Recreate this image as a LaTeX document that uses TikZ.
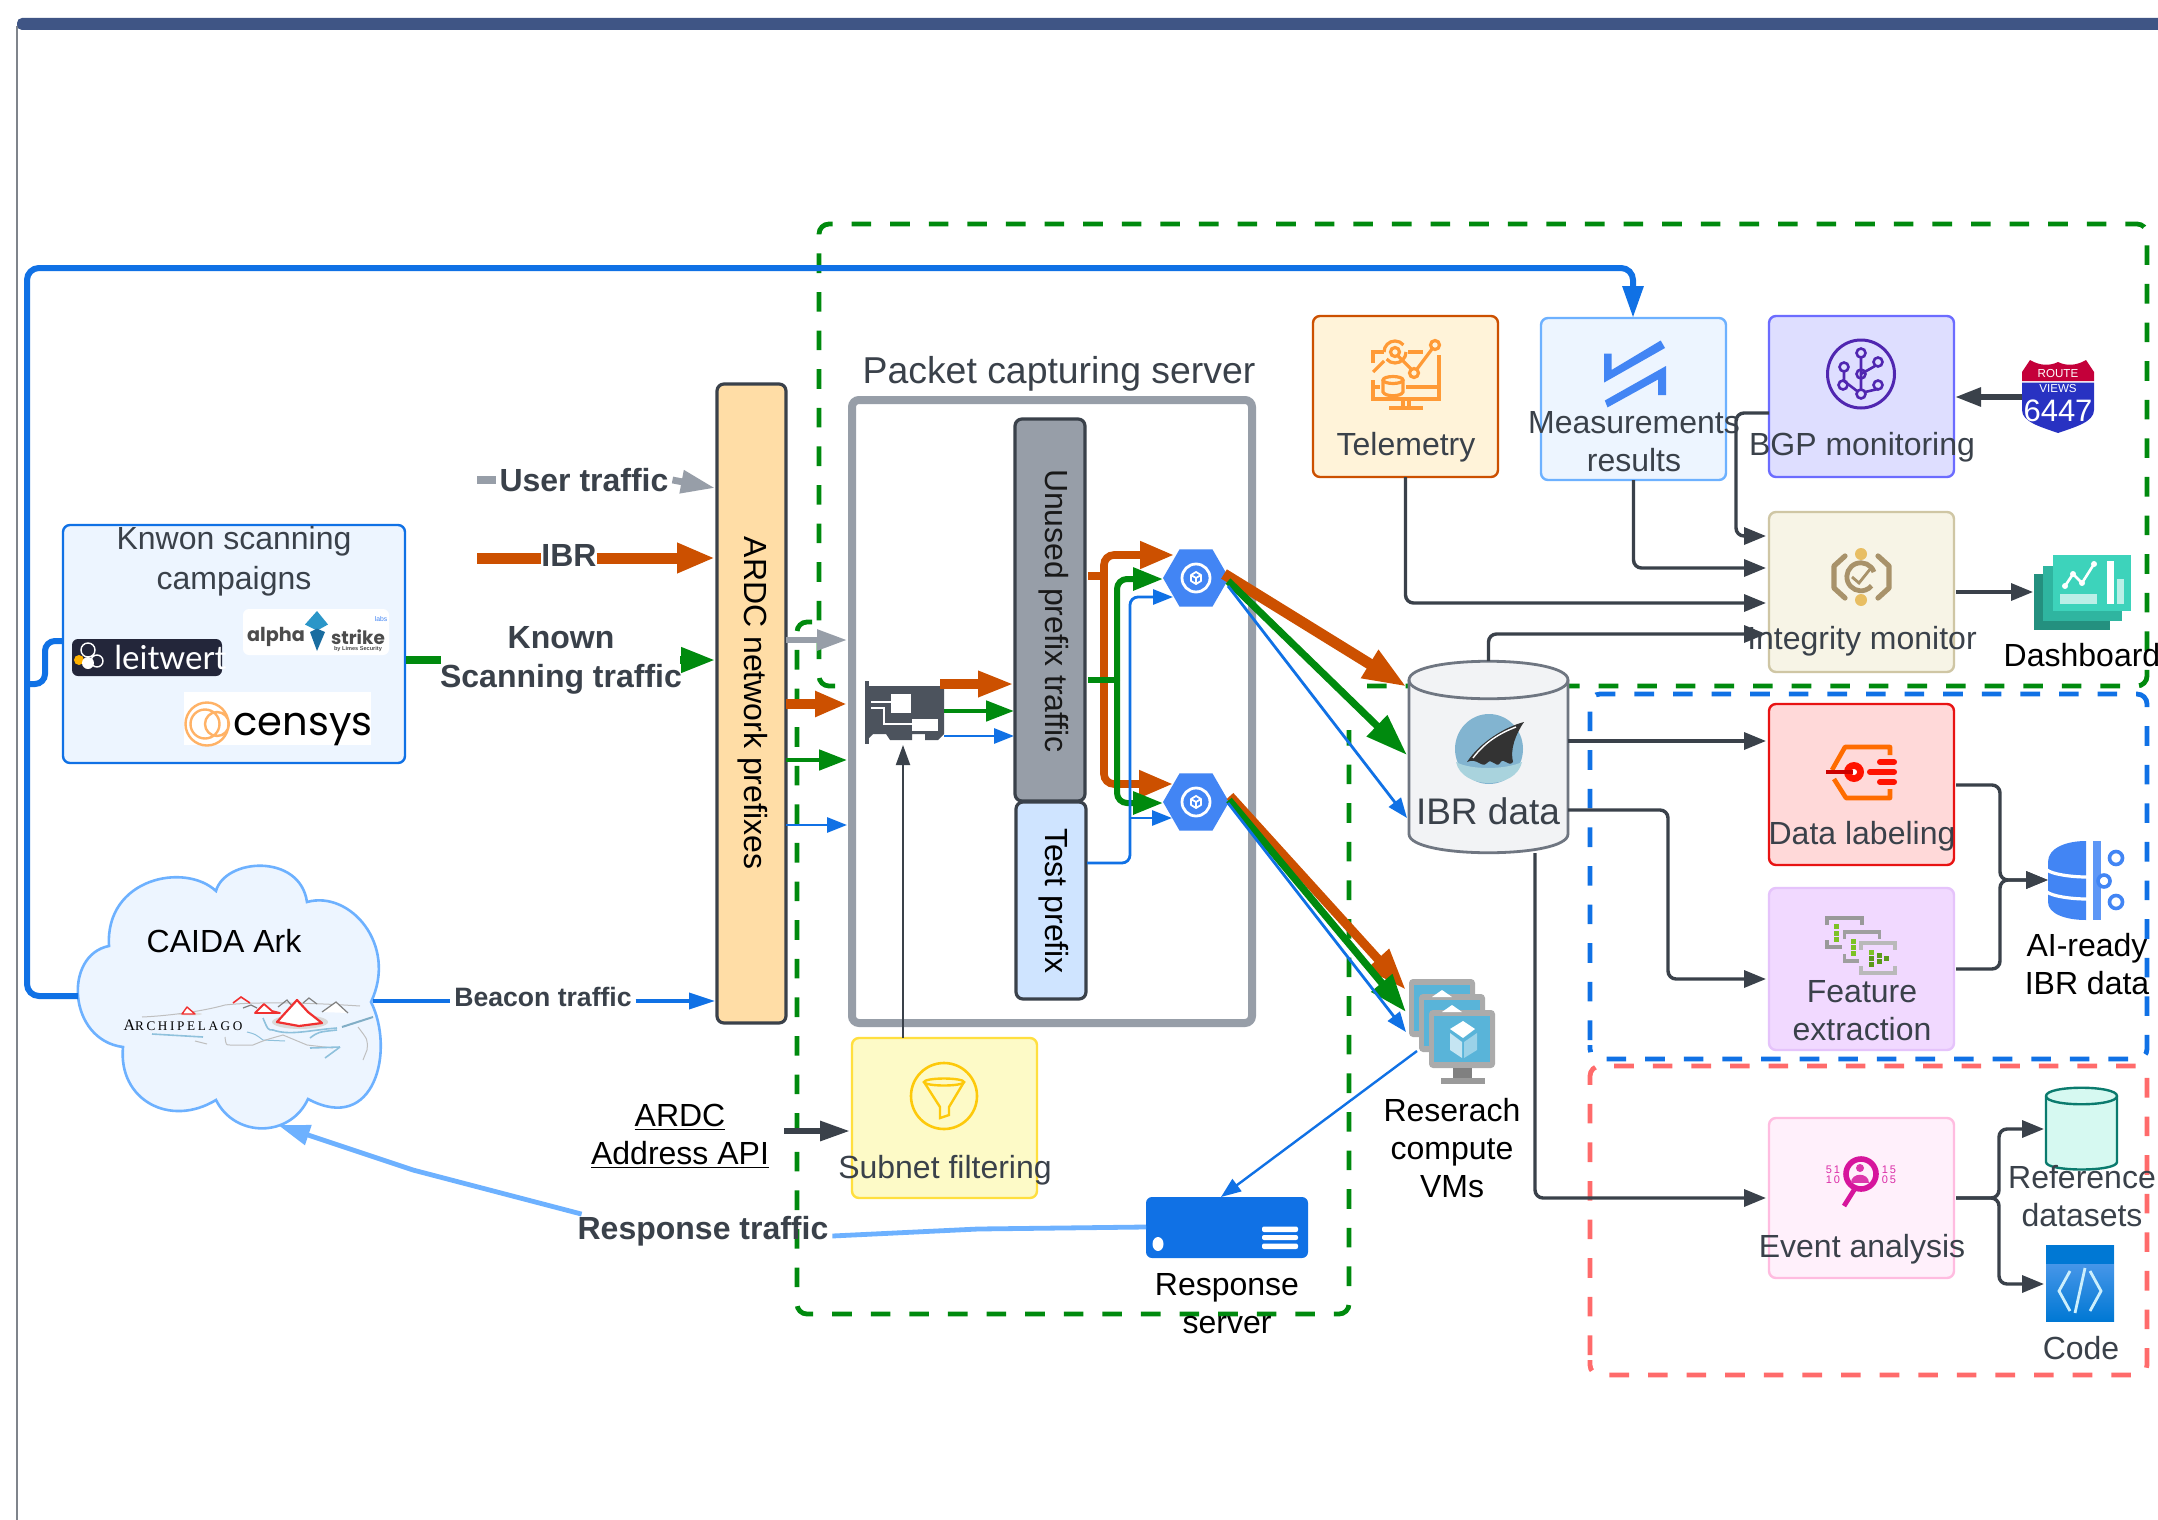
\documentclass[tikz,border=0pt]{standalone}
\usepackage{fontspec}
\setmainfont{Liberation Sans}
\newfontfamily\archfont[LetterSpace=20]{Liberation Serif}
\newfontfamily\leitfont{Lato}
\newfontfamily\popfont{Poppins}
\usetikzlibrary{arrows.meta,shapes.geometric}
\definecolor{cOrange}{HTML}{CC5000}
\definecolor{cGreen}{HTML}{008A0E}
\definecolor{cBlue}{HTML}{1071E5}
\definecolor{cLight}{HTML}{6DB1FF}
\definecolor{cGray}{HTML}{979EA8}
\definecolor{cDark}{HTML}{3A414A}
\definecolor{cRed}{HTML}{FF6B6B}
\definecolor{cTop}{HTML}{3F5585}
\definecolor{cIce}{HTML}{EDF5FF}
\definecolor{cGoog}{HTML}{4285F4}
\definecolor{cTele}{HTML}{FF9A36}
\definecolor{cRiver}{HTML}{8FC1DC}
\definecolor{cMount}{HTML}{F03030}
\definecolor{cInk}{HTML}{7F848B}
\definecolor{cPink}{HTML}{D6159C}
\definecolor{cBrace}{HTML}{A8926A}
\definecolor{cGold}{HTML}{E8BE63}
\definecolor{cScreen}{HTML}{59B4D9}
\definecolor{cMon}{HTML}{ABABAB}
\definecolor{cLeaf}{HTML}{7DC225}
\definecolor{cLeafD}{HTML}{5B9A1A}
\definecolor{fArdc}{HTML}{FFDDA6}
\definecolor{fTest}{HTML}{CFE4FF}
\definecolor{fSub}{HTML}{FDFAC7}
\definecolor{sSub}{HTML}{FFDF3F}
\definecolor{cFun}{HTML}{FDC90B}
\definecolor{fTel}{HTML}{FFF3D9}
\definecolor{fBgp}{HTML}{DEDEFF}
\definecolor{sBgp}{HTML}{6C6CFF}
\definecolor{cBgp}{HTML}{5026B0}
\definecolor{fIm}{HTML}{F7F4E6}
\definecolor{sIm}{HTML}{CFC6A4}
\definecolor{fLab}{HTML}{FFD9D9}
\definecolor{sLab}{HTML}{E81313}
\definecolor{fFea}{HTML}{F1D9FF}
\definecolor{sFea}{HTML}{E5C3FB}
\definecolor{fEve}{HTML}{FFF0FB}
\definecolor{sEve}{HTML}{FFBCE0}
\definecolor{fRef}{HTML}{D6F9F1}
\definecolor{sRef}{HTML}{0B7B6E}
\definecolor{fCyl}{HTML}{F2F3F5}
\definecolor{sCyl}{HTML}{6F7681}
\definecolor{cNic}{HTML}{4C535D}
\definecolor{dFront}{HTML}{3DD3BB}
\definecolor{dMid}{HTML}{2FB5A0}
\definecolor{dBack}{HTML}{24907F}
\definecolor{cCodeTop}{HTML}{0078D4}
\definecolor{cCodeBody}{HTML}{5EA0EF}
\definecolor{cShark}{HTML}{82B4D0}
\definecolor{cWater}{HTML}{A9D3DD}
\definecolor{cShieldR}{HTML}{C4003A}
\definecolor{cShieldB}{HTML}{2832C2}
\definecolor{cTopDia}{HTML}{2B96C8}
\definecolor{cLowDia}{HTML}{1A6DA0}
\definecolor{cLeitBg}{HTML}{23263A}
\newcommand\boxnode[6]{\pgfmathsetmacro\bw{(#4-#2)/2}\pgfmathsetmacro\bh{(#5-#3)/2}\node[#6,minimum width=\bw pt,minimum height=\bh pt] (#1) at ({(#2+#4)/2},{(#3+#5)/2}) {};}
\tikzset{
  panel/.style={rectangle,draw,rounded corners=3.5pt,inner sep=0pt,outer sep=0pt,line width=1.2pt},
  lbl/.style={inner sep=0pt,outer sep=0pt,align=center,text=cDark,font=\fontsize{16}{19}\selectfont},
  lblk/.style={lbl,text=black},
  boldlbl/.style={inner sep=1pt,outer sep=1pt,align=center,text=cDark,font=\fontsize{16}{19.5}\selectfont\bfseries},
  grpGreen/.style={cGreen,line width=2.4pt,dash pattern=on 9.8pt off 9.5pt,rounded corners=5pt},
  grpBlue/.style={cBlue,line width=2.4pt,dash pattern=on 9.8pt off 9.5pt,rounded corners=5pt},
  grpRed/.style={cRed,line width=2.4pt,dash pattern=on 9.8pt off 9.5pt,rounded corners=5pt},
  wideOrange/.style={cOrange,line width=5.5pt,-{Triangle[length=19pt,width=14pt]}},
  wideGreen/.style={cGreen,line width=3.6pt,-{Triangle[length=17pt,width=12pt]}},
  wideGray/.style={cGray,line width=3.4pt,-{Triangle[length=17pt,width=11pt]}},
  thinBlue/.style={cBlue,line width=1.4pt,-{Triangle[length=10pt,width=7.5pt]}},
  midBlue/.style={cBlue,line width=1.8pt,-{Triangle[length=13pt,width=8pt]}},
  darkArrow/.style={cDark,line width=1.7pt,rounded corners=4pt,-{Triangle[length=11pt,width=8.5pt]}},
  iconTele/.style={cTele,line width=1.6pt},
  hexa/.style={regular polygon,regular polygon sides=6,fill=cGoog,minimum size=33pt,inner sep=0pt,outer sep=0pt},
}
\begin{document}
\begin{tikzpicture}[x=0.5pt,y=-0.5pt]
\useasboundingbox (0,0) rectangle (2158,1520);
\fill[white] (0,0) rectangle (2158,1520);
% frame
\draw[cInk,line width=0.9pt] (17,26) -- (17,1520);
\fill[cTop,rounded corners=2.5pt] (17,18) rectangle (2175,30);
% group outlines
\draw[grpGreen] (835,686) -- (819,686) -- (819,224) -- (2147,224) -- (2147,686) -- (1357,686);
\draw[grpGreen] (812,622) -- (797,622) -- (797,1314) -- (1349,1314) -- (1349,730);
\draw[grpBlue] (1590,1040) -- (1590,694) -- (2147,694) -- (2147,1059) -- (1590,1059) -- (1590,1045);
\draw[grpRed] (1590,1355) -- (1590,1066) -- (2147,1066) -- (2147,1375) -- (1590,1375) -- (1590,1360);
% boxes
\boxnode{scan}{63}{525}{405}{763}{panel,draw=cBlue,fill=cIce}
\boxnode{ardc}{717}{384}{786}{1023}{panel,draw=cDark,line width=1.6pt,fill=fArdc}
\boxnode{server}{852}{400}{1252}{1023}{panel,draw=cGray,line width=4pt,fill=white}
\boxnode{unused}{1015}{419}{1085}{801}{panel,draw=cDark,line width=1.6pt,fill=cGray}
\boxnode{testp}{1016}{802}{1086}{999}{panel,draw=cDark,line width=1.6pt,fill=fTest}
\boxnode{subnet}{852}{1038}{1037}{1198}{panel,draw=sSub,fill=fSub}
\boxnode{telem}{1313}{316}{1498}{477}{panel,draw=cOrange,fill=fTel}
\boxnode{meas}{1541}{318}{1726}{480}{panel,draw=cLight,fill=cIce}
\boxnode{bgp}{1769}{316}{1954}{477}{panel,draw=sBgp,fill=fBgp}
\boxnode{integ}{1769}{512}{1954}{672}{panel,draw=sIm,fill=fIm}
\boxnode{labeling}{1769}{704}{1954}{865}{panel,draw=sLab,fill=fLab}
\boxnode{feature}{1769}{888}{1954}{1050}{panel,draw=sFea,fill=fFea}
\boxnode{eventa}{1769}{1118}{1954}{1278}{panel,draw=sEve,fill=fEve}
\boxnode{respsrv}{1146}{1197}{1308}{1258}{rectangle,rounded corners=3pt,fill=cBlue,inner sep=0pt,outer sep=0pt}
% cloud
\draw[fill=cIce,draw=cLight,line width=1.3pt] (216,891) .. controls (225,858) and (300,853) .. (307,902)
  .. controls (350,890) and (398,945) .. (371,1002)
  .. controls (395,1050) and (375,1135) .. (308,1099)
  .. controls (290,1138) and (235,1138) .. (216,1100)
  .. controls (170,1128) and (118,1100) .. (123,1047)
  .. controls (68,1040) and (63,955) .. (109,946)
  .. controls (105,878) and (185,862) .. (216,891) -- cycle;
\coordinate (cloudW) at (78,996);
\coordinate (cloudE) at (373,1001);
\coordinate (cloudS) at (278,1125);
% archipelago logo
\fill[gray!30] (300,1022) ellipse (28 and 7);
\fill[gray!25] (190,1014) ellipse (12 and 1.5);
\begin{scope}[cRiver,line width=0.5pt]
\draw[cRiver!90!black,line width=1pt] (342,1027) -- (373,1017);
\draw[line width=0.8pt] (310,1038) .. controls (318,1032) .. (337,1030);
\draw[line width=0.8pt] (263,1018) .. controls (268,1030) .. (273,1030) .. controls (290,1036) and (310,1030) .. (337,1028);
\draw (247,1032) .. controls (255,1034) .. (263,1040) -- (285,1041);
\draw[gray!50] (225,1037) .. controls (226,1045) .. (230,1045) -- (253,1045) .. controls (265,1040) .. (283,1035) .. controls (295,1040) .. (307,1045) -- (333,1048);
\draw[line width=0.8pt] (152,1034) -- (203,1037);
\draw[gray!50] (195,1041) -- (207,1044);
\draw[gray!50] (358,1027) .. controls (368,1040) .. (367,1050) -- (363,1060);
\draw[line width=0.8pt] (310,1048) -- (340,1047);
\draw[line width=0.8pt] (325,1058) -- (340,1047);
\draw[gray!50] (142,1017) .. controls (165,1016) and (200,1012) .. (225,1005) .. controls (250,1002) and (300,1002) .. (360,1006);
\end{scope}
\draw[gray,line width=0.6pt] (278,1007) -- (287,1000) -- (292,1006);
\draw[gray,line width=0.6pt] (303,1003) -- (309,998) -- (317,1004);
\draw[gray,line width=0.6pt] (243,1008) -- (251,1005) -- (257,1008);
\draw[gray,fill=white,line width=0.6pt] (322,1012) -- (336,1002) -- (348,1013);
\draw[cMount,fill=white,line width=1.1pt,line join=round] (277,1022) -- (297,1000) -- (308,1012) -- (322,1023) -- (299,1026) -- cycle;
\draw[cMount,fill=white,line width=0.9pt,line join=round] (255,1013) -- (264,1004) -- (272,1011) -- (280,1013) -- cycle;
\draw[cMount,fill=white,line width=0.7pt,line join=round] (182,1014) -- (187,1007) -- (195,1014) -- cycle;
\draw[cMount,line width=0.8pt] (233,1003) -- (241,997) -- (250,1003);
\node[inner sep=0pt,text=black] (archtext) at (183,1025) {\archfont\fontsize{8}{9}\selectfont A\fontsize{6.6}{9}\selectfont RCHIPELAGO};
% logos
\boxnode{leitlogo}{72}{639}{222}{676}{rectangle,rounded corners=3pt,fill=cLeitBg,inner sep=0pt}
\node[inner sep=0pt,text=white,anchor=west] (leittext) at (114,657) {\leitfont\fontsize{16.5}{18}\selectfont leitwert};
\draw[white,line width=0.7pt] (88,650) circle (7) (97,661) circle (6);
\fill[orange!60!yellow] (79,660) circle (5);
\fill[white] (88,663) circle (6);
\boxnode{alphalogo}{243}{609}{389}{655}{rectangle,rounded corners=3pt,fill=white,inner sep=0pt}
\node[inner sep=0pt,text=black!70] (alphat) at (276,637) {\popfont\fontsize{9.6}{10}\selectfont\bfseries alpha};
\node[inner sep=0pt,text=black!70] (striket) at (358,637) {\popfont\fontsize{9.2}{10}\selectfont\bfseries strike};
\node[inner sep=0pt,text=cGoog] (labst) at (381,619) {\fontsize{3.4}{4}\selectfont labs};
\node[inner sep=0pt,text=black!70] (limest) at (358,649) {\fontsize{2.8}{3}\selectfont\bfseries by Limes Security};
\fill[cTopDia] (305,624.5) -- (317,611) -- (328,624.5) -- (317,630.6) -- cycle;
\fill[cLowDia] (310,632) -- (317,628.6) -- (325,632) -- (317,651) -- cycle;
\boxnode{censlogo}{184}{692}{371}{745}{rectangle,fill=white,inner sep=0pt}
\node[inner sep=0pt,text=black] (censt) at (303,729) {\popfont\fontsize{20}{22}\selectfont censys};
\draw[orange!60!white,line width=1.2pt] (207,724) circle (21.5) (205,724) circle (14.5) (217,724) circle (12);
% nic
\fill[cNic] (865,681) rectangle (869,744);
\fill[cNic] (869,686) -- (944,686) -- (944,734) -- (938,740) -- (925,740) -- (925,734) -- (912,734) -- (912,740) -- (890,740) -- (886,734) -- (873,734) -- (869,738) -- cycle;
\fill[white] (891,694) rectangle (911,713);
\fill[white] (912,719) rectangle (938,731);
\draw[white,line width=0.8pt] (871,702) -- (891,702) (871,708) -- (884,708) -- (884,724) -- (912,724);
\coordinate (nicR1) at (940,684);
\coordinate (nicR2) at (944,711);
\coordinate (nicR3) at (944,736);
\coordinate (nicB) at (903,745);
% left arrows
\node[boldlbl] (userl) at (584,480) {User traffic};
\node[boldlbl,inner sep=0pt,outer sep=0pt] (ibrl) at (569,555) {IBR};
\node[boldlbl] (knownl) at (561,660) {Known\\Scanning traffic};
\node[boldlbl,font=\fontsize{13.3}{16}\selectfont\bfseries] (beaconl) at (543,997) {Beacon traffic};
\node[boldlbl] (respl) at (703,1231) {Response traffic};
\coordinate (userS) at (477,480);
\coordinate (ibrS) at (477,558);
\coordinate (ardcU) at (715,488);
\coordinate (ardcI) at (715,558);
\coordinate (ardcK) at (715,660);
\coordinate (ardcB) at (715,1001);
\coordinate (scanE) at (406,660);
\coordinate (scanEnd) at (441,660);
\coordinate (knownS) at (680,660);
\draw[cGray,line width=4pt] (userS) -- (userl.west |- userS);
\draw[wideGray] (userl.east) -- (ardcU);
\draw[cOrange,line width=5.5pt] (ibrS) -- (ibrl.west |- ibrS);
\draw[wideOrange] (ibrl.east |- ibrS) -- (ardcI);
\draw[cGreen,line width=4pt] (scanE) -- (scanEnd);
\draw[wideGreen] (knownS) -- (ardcK);
\draw[cBlue,line width=1.8pt] (cloudE) -- (beaconl.west |- cloudE);
\draw[midBlue] (beaconl.east |- cloudE) -- (ardcB);
% feedback line
\coordinate (measN) at (1633,318);
\draw[cBlue,line width=3pt,rounded corners=6pt,-{Triangle[length=16pt,width=10pt]}] (cloudW) -- (27,996) -- (27,268) -- (1633,268) -- (measN);
\draw[cBlue,line width=3pt,rounded corners=5pt] (scan.west |- 0,641) -- (45,641) -- (45,684) -- (27,684);
% response
\coordinate (respE) at (1146,1227);
\draw[cLight,line width=2.4pt] (respE) -- (978,1229) -- (respl.east |- 0,1236);
\draw[cLight,line width=2.4pt,-{Triangle[length=16pt,width=10pt]}] (respl.north west) ++(8,2) -- (413,1170) -- (cloudS);
% ardc to server
\coordinate (ardcR1) at (786,640);\coordinate (srv1) at (847,640);
\coordinate (ardcR2) at (786,704);\coordinate (srv2) at (847,704);
\coordinate (ardcR3) at (786,760);\coordinate (srv3) at (847,760);
\coordinate (ardcR4) at (786,825);\coordinate (srv4) at (847,825);
\draw[wideGray,line width=2.8pt,-{Triangle[length=15pt,width=10pt]}] (ardcR1) -- (srv1);
\draw[wideOrange,line width=5pt,-{Triangle[length=16pt,width=12pt]}] (ardcR2) -- (srv2);
\draw[wideGreen,line width=2.4pt,-{Triangle[length=14pt,width=10pt]}] (ardcR3) -- (srv3);
\draw[thinBlue] (ardcR4) -- (srv4);
% nic to unused
\coordinate (un1) at (1014,684);\coordinate (un2) at (1014,711);\coordinate (un3) at (1014,736);
\draw[wideOrange,line width=5pt,-{Triangle[length=18pt,width=12pt]}] (nicR1) -- (un1);
\draw[wideGreen,line width=2.4pt,-{Triangle[length=14pt,width=10pt]}] (nicR2) -- (un2);
\draw[thinBlue] (nicR3) -- (un3);
% hexes
\node[hexa] (hexA) at (1196,578) {};
\node[hexa] (hexB) at (1196,802) {};
\foreach \h in {hexA,hexB}{
  \draw[white,line width=1.4pt] (\h.center) circle (14);
  \draw[white,line width=0.9pt,line join=round] (\h.center) ++(-5,-3) -- ++(5,-3) -- ++(5,3) -- ++(0,6) -- ++(-5,3) -- ++(-5,-3) -- cycle;
  \draw[white,line width=0.9pt] (\h.center) ++(-5,-3) -- ++(5,3) -- ++(5,-3) (\h.center) -- ++(0,6);
}
\coordinate (hA1) at (1174,555);\coordinate (hA2) at (1163,579);\coordinate (hA3) at (1173,597);
\coordinate (hB1) at (1173,784);\coordinate (hB2) at (1163,803);\coordinate (hB3) at (1172,818);
\coordinate (hA0) at (1224,574);
\coordinate (unO) at (1088,576);\coordinate (unG) at (1088,680);\coordinate (teB) at (1087,863);
\draw[cOrange,line width=3.8pt] (unO) -- (1104,576);
\draw[wideOrange,line width=3.8pt,rounded corners=5pt,-{Triangle[length=17pt,width=13pt]}] (1104,576) -- (1104,555) -- (hA1);
\draw[wideOrange,line width=3.8pt,rounded corners=5pt,-{Triangle[length=17pt,width=13pt]}] (1104,576) -- (1104,784) -- (hB1);
\draw[cGreen,line width=3pt] (unG) -- (1117,680);
\draw[wideGreen,line width=3pt,rounded corners=5pt,-{Triangle[length=15pt,width=11pt]}] (1117,680) -- (1117,579) -- (hA2);
\draw[wideGreen,line width=3pt,rounded corners=5pt,-{Triangle[length=15pt,width=11pt]}] (1117,680) -- (1117,803) -- (hB2);
\draw[thinBlue,rounded corners=4pt] (teB) -- (1130,863) -- (1130,597) -- (hA3);
\draw[thinBlue,rounded corners=4pt] (1130,818) -- (hB3);
% cylinder IBR
\boxnode{ibr}{1409}{661}{1568}{853}{rectangle,inner sep=0pt,outer sep=0pt}
\draw[fill=fCyl,draw=sCyl,line width=1.4pt] (1409,680) -- (1409,834) .. controls (1409,859) and (1568,859) .. (1568,834) -- (1568,680) .. controls (1568,655) and (1409,655) .. (1409,680) -- cycle;
\draw[sCyl,line width=1.4pt] (1409,680) .. controls (1409,705) and (1568,705) .. (1568,680);
\fill[cShark] (1489,749) ellipse (34 and 35);
\fill[cWater] (1456,762) .. controls (1470,770) and (1505,770) .. (1522,762) .. controls (1516,790) and (1462,790) .. (1456,762) -- cycle;
\fill[black!80] (1467,762) .. controls (1480,742) and (1505,727) .. (1524,722) .. controls (1515,735) and (1510,750) .. (1513,762) .. controls (1508,768) and (1504,756) .. (1500,763) .. controls (1496,769) and (1492,757) .. (1487,763) .. controls (1482,769) and (1477,757) .. (1467,762) -- cycle;
\draw[white,line width=0.7pt] (1473,758) .. controls (1485,742) and (1500,733) .. (1516,727);
% hex to ibr
\coordinate (ibrT1) at (1407,687);\coordinate (ibrT2) at (1407,755);\coordinate (ibrT3) at (1407,818);
\coordinate (vm1) at (1406,990);\coordinate (vm2) at (1406,1012);\coordinate (vm3) at (1406,1032);
\draw[wideOrange,-{Triangle[length=22pt,width=15pt]}] (hA0) -- (ibrT1);
\draw[wideGreen,-{Triangle[length=21pt,width=14pt]}] (1228,581) -- (ibrT2);
\draw[thinBlue] (1228,586) -- (ibrT3);
\draw[wideOrange,line width=4.5pt,-{Triangle[length=21pt,width=14pt]}] (1230,796) -- (vm1);
\draw[wideGreen,-{Triangle[length=19pt,width=13pt]}] (1229,800) -- (vm2);
\draw[thinBlue] (1228,803) -- (vm3);
% VMs
\foreach \mx/\my in {1409/979,1419/994,1429/1010}{
  \fill[cMon,rounded corners=2pt] (\mx,\my) rectangle ++(66,58);
  \fill[cScreen] (\mx+5,\my+6) rectangle ++(56,46);
}
\fill[white] (1442,990) -- (1452,997) -- (1432,997) -- cycle;
\fill[white] (1452,1005) -- (1462,1012) -- (1442,1012) -- cycle;
\fill[cMon!75!black] (1453,1068) rectangle (1472,1078);
\fill[cMon!90!black] (1441,1078) rectangle (1485,1084);
\fill[white] (1463,1021) -- (1475,1029) -- (1463,1038) -- (1450,1029) -- cycle;
\fill[cScreen!35!white] (1450,1033) -- (1462,1042) -- (1462,1058) -- (1450,1050) -- cycle;
\fill[cScreen!60!white] (1464,1042) -- (1477,1033) -- (1477,1050) -- (1464,1058) -- cycle;
\coordinate (vmOut) at (1417,1051);
\coordinate (srvIn) at (1221,1197);
\draw[thinBlue,line width=1.2pt] (vmOut) -- (srvIn);
% server details
\fill[white] (1158,1244) ellipse (5.5 and 7);
\fill[white,rounded corners=1pt] (1262,1226.5) rectangle (1298,1232) (1262,1235) rectangle (1298,1240) (1262,1243.5) rectangle (1298,1249);
% subnet
\draw[cDark,line width=1pt,-{Triangle[length=10pt,width=7pt]}] (subnet.north -| nicB) -- (nicB);
\draw[cFun,line width=1.3pt] (944,1096) circle (33);
\draw[cFun,line width=1.2pt] (944,1082) ellipse (20 and 3.5);
\draw[cFun,line width=1.2pt] (924,1082) -- (940,1107) -- (940,1118) -- (949,1115) -- (949,1107) -- (964,1082);
\coordinate (apiE) at (784,1131);\coordinate (subW) at (850,1131);
\draw[darkArrow,line width=3pt,-{Triangle[length=15pt,width=9.5pt]}] (apiE) -- (subW);
% telemetry icon
\begin{scope}[iconTele]
\draw (1395,352) circle (4.5) (1414,373) circle (4.5) (1435,345) circle (4.5);
\draw (1398,356) -- (1411,369) (1417,369) -- (1432,349);
\draw (1406,352) arc (0:140:11);
\draw (1384,352) arc (180:320:11);
\draw (1408,352) -- (1423,352);
\draw (1373,372) -- (1384,361);
\draw (1373,363) -- (1373,352) -- (1384,352);
\draw (1439,355) -- (1439,399) -- (1373,399) -- (1373,380);
\draw (1373,387) -- (1380,387);
\draw (1406,387) -- (1439,387);
\draw (1383,380) -- (1383,392) .. controls (1385,397) and (1401,397) .. (1403,392) -- (1403,380);
\draw (1393,380) ellipse (10 and 3.5);
\draw (1403,399) -- (1403,408) (1409,399) -- (1409,408) (1389,408) -- (1423,408);
\end{scope}
% measurements icon
\fill[cGoog] (1604,353.5) -- (1611.5,353.5) -- (1611.5,370) -- (1660.7,340.5) -- (1665,348) -- (1604,382.6) -- cycle;
\fill[cGoog] (1666,366) -- (1666,395) -- (1658,395) -- (1658,379.5) -- (1607.5,407.4) -- (1604.8,400.5) -- cycle;
% bgp icon
\begin{scope}[cBgp,line width=1.5pt]
\draw (1861,374) ellipse (33.5 and 34);
\draw[line width=1.3pt] (1861,357) -- (1861,390) (1861,374) -- (1875,366) (1844,371) -- (1844,381) -- (1857,391) (1878,389) -- (1865,392);
\draw[line width=1.3pt] (1861,353) circle (4.5) (1861,374) circle (4.5) (1878,362) circle (4.5) (1844,367) circle (4.5) (1861,394) circle (4.5) (1843,385) circle (4.5) (1878,385) circle (4.5);
\end{scope}
% integrity icon
\draw[cBrace,line width=2.6pt,line cap=round,line join=round] (1845,556) -- (1834,566) -- (1834,588) -- (1845,598) (1878,556) -- (1889,566) -- (1889,588) -- (1878,598);
\fill[cGold] (1861,554) ellipse (6 and 6) (1861,600) ellipse (6 and 6);
\draw[cBrace,line width=2.4pt] (1874,572) arc (-20:-320:14 and 14);
\draw[cBrace,line width=1.4pt] (1852,577) -- (1859,583) -- (1871,568);
% route views shield
\fill[cShieldR] (2022,381) -- (2022,372) -- (2030,360) .. controls (2040,366) and (2050,366) .. (2058,362) .. controls (2066,366) and (2076,366) .. (2086,360) -- (2094,372) -- (2094,381) -- cycle;
\fill[cShieldB] (2022,382.5) -- (2094,382.5) -- (2094,410) .. controls (2094,422) and (2075,427) .. (2058,433) .. controls (2041,427) and (2022,422) .. (2022,410) -- cycle;
\node[inner sep=0pt,text=white] (rv1) at (2058,374) {\fontsize{5.8}{6}\selectfont ROUTE};
\node[inner sep=0pt,text=white] (rv2) at (2058,389) {\fontsize{5.8}{6}\selectfont VIEWS};
\node[inner sep=0pt,text=white] (rv3) at (2058,411) {\fontsize{15.5}{16}\selectfont 6447};
\coordinate (rvW) at (2022,397);
\coordinate (bgpE) at (1955,397);
\draw[darkArrow,line width=2.8pt,-{Triangle[length=13pt,width=9pt]}] (rvW) -- (bgpE);
% data labeling icon
\draw[orange!85!red,line width=2.3pt,line join=round] (1832,770) -- (1845,747) -- (1890,747) -- (1890,755);
\draw[orange!85!red,line width=2.3pt,line join=round] (1834,779) -- (1846,798) -- (1890,798) -- (1890,789);
\fill[red!85!orange] (1854,772) circle (10);
\fill[white] (1854,772) circle (3);
\draw[red!80!black,line width=2pt] (1826,772) -- (1853,772);
\draw[red!85!orange,line width=3pt,line cap=round] (1880,762) -- (1894,762) (1870,772) -- (1894,772) (1880,782) -- (1894,782);
% feature icon
\begin{scope}[line width=1.6pt]
\draw[gray!80] (1827,925) -- (1827,918) -- (1862,918) -- (1862,925) (1827,940) -- (1827,947) -- (1842,947);
\draw[gray!75] (1844.5,939) -- (1844.5,932) -- (1879.5,932) -- (1879.5,939) (1844.5,954) -- (1844.5,961) -- (1859,961);
\draw[gray!55] (1861,950) -- (1861,943) -- (1895,943) -- (1895,950) (1861,966) -- (1861,973) -- (1895,973) -- (1895,966);
\end{scope}
\foreach \q in {(1836,926),(1836,933),(1836,939),(1853,941),(1853,947),(1853,953),(1871,952)}
  \fill[cLeaf] \q ++(-2.5,-2.5) rectangle ++(5,5);
\foreach \q in {(1871,958),(1871,964),(1879,955),(1879,961),(1886,958)}
  \fill[cLeafD] \q ++(-2.5,-2.5) rectangle ++(5,5);
% event icon
\draw[cPink,line width=2.8pt] (1861,1174) circle (15);
\draw[cPink,line width=2.4pt] (1854,1190) -- (1844,1206);
\fill[cPink!85!white] (1860,1168) circle (4);
\fill[cPink!85!white] (1851,1183) .. controls (1851,1172) and (1869,1172) .. (1869,1183) -- cycle;
\node[inner sep=0pt,text=cPink!90!white] (ev1) at (1833,1170) {\fontsize{5.5}{6}\selectfont 5\,1};
\node[inner sep=0pt,text=cPink!90!white] (ev2) at (1833,1180) {\fontsize{5.5}{6}\selectfont 1\,0};
\node[inner sep=0pt,text=cPink!90!white] (ev3) at (1889,1170) {\fontsize{5.5}{6}\selectfont 1\,5};
\node[inner sep=0pt,text=cPink!90!white] (ev4) at (1889,1180) {\fontsize{5.5}{6}\selectfont 0\,5};
% dashboard icon
\fill[dBack] (2034,574) rectangle (2110,630);
\fill[dMid] (2043,566) rectangle (2122,621);
\fill[dFront] (2053,555) rectangle (2131,611);
\draw[white,line width=1.3pt] (2065,586) -- (2073,574) -- (2082,583) -- (2094,564);
\fill[white] (2065,586) circle (3) (2073,574) circle (3) (2082,583) circle (3) (2094,564) circle (3);
\fill[white] (2107,561) rectangle (2114,604);
\fill[white,opacity=.65] (2117,579) rectangle (2124,604);
\fill[white,opacity=.65] (2060,594) rectangle (2097,604);
% reference datasets
\boxnode{refd}{2046}{1088}{2117}{1170}{rectangle,inner sep=0pt,outer sep=0pt}
\draw[fill=fRef,draw=sRef,line width=1.2pt] (2046,1096) -- (2046,1162) .. controls (2046,1172) and (2117,1172) .. (2117,1162) -- (2117,1096) .. controls (2117,1085) and (2046,1085) .. (2046,1096) -- cycle;
\draw[sRef,line width=1.2pt] (2046,1096) .. controls (2046,1107) and (2117,1107) .. (2117,1096);
% code icon
\boxnode{codei}{2046}{1245}{2114}{1321}{rectangle,inner sep=0pt,outer sep=0pt,top color=cCodeBody,bottom color=cCodeTop}
\fill[cCodeTop] (2046,1245) rectangle (2114,1264);
\draw[white!80!cyan,line width=1.4pt] (2070,1271) -- (2059,1291) -- (2070,1311) (2090,1271) -- (2101,1291) -- (2090,1311) (2085,1268) -- (2075,1313);
% AI icon
\fill[cGoog] (2086,841) .. controls (2066,841) and (2048,848) .. (2048,862) -- (2048,902) .. controls (2048,914) and (2066,920) .. (2086,920) -- cycle;
\draw[white,line width=1.6pt] (2047,870) .. controls (2052,874) and (2070,877) .. (2087,877) (2047,892) .. controls (2052,896) and (2070,899) .. (2087,899);
\fill[cGoog!85!white] (2093,841) rectangle (2101,920);
\draw[cGoog,line width=1.8pt,fill=white] (2116,858) circle (6.5) (2116,902) circle (6.5) (2104,881) circle (6);
\coordinate (aiW) at (2048,880);
% dark connectors
\coordinate (imI) at (1766,536);\coordinate (imM) at (1766,568);\coordinate (imT) at (1766,603);\coordinate (imD) at (1766,634);
\coordinate (imE) at (1956,592);\coordinate (dashW) at (2033,592);
\draw[darkArrow] (telem.south) -- (1405.5,603) -- (imT);
\draw[darkArrow] (meas.south) -- (1633.5,568) -- (imM);
\draw[darkArrow] (bgp.west |- 0,413) -- (1736,413) -- (1736,536) -- (imI);
\draw[darkArrow] (ibr.north) -- (1488.5,634) -- (imD);
\draw[darkArrow] (imE) -- (dashW);
\coordinate (ibrE1) at (1568,741);\coordinate (labW) at (1766,741);
\coordinate (ibrE2) at (1568,810);\coordinate (feaW) at (1766,979);
\coordinate (ibrS2) at (1535,853);\coordinate (eveW) at (1766,1198);
\draw[darkArrow] (ibrE1) -- (labW);
\draw[darkArrow] (ibrE2) -- (1668,810) -- (1668,979) -- (feaW);
\draw[darkArrow] (ibrS2) -- (1535,1198) -- (eveW);
\coordinate (labE) at (1956,785);\coordinate (feaE) at (1956,969);\coordinate (eveE) at (1956,1198);
\coordinate (refW) at (2044,1129);\coordinate (codeW) at (2044,1284);
\draw[darkArrow] (labE) -- (2000,785) -- (2000,880) -- (aiW);
\draw[darkArrow] (feaE) -- (2000,969) -- (2000,880) -- (aiW);
\draw[darkArrow] (eveE) -- (1999,1198) -- (1999,1129) -- (refW);
\draw[darkArrow] (eveE) -- (1999,1198) -- (1999,1284) -- (codeW);
% labels
\node[lbl] (scanl) at (234,561) {Knwon scanning\\[1pt]campaigns};
\node[lblk] (caidal) at (224,941) {CAIDA Ark};
\node[lblk,rotate=-90] (ardcl) at (753,703) {ARDC network prefixes};
\node[lbl,font=\fontsize{18.7}{22}\selectfont] (pktl) at (1059,374) {Packet capturing server};
\node[lblk,rotate=-90,text=black!90] (unusedl) at (1054,611) {Unused prefix traffic};
\node[lblk,rotate=-90] (testl) at (1054,901) {Test prefix};
\node[lbl] (subl) at (945,1170) {Subnet filtering};
\node[lblk] (apil) at (680,1136) {\underline{ARDC}\\\underline{Address API}};
\node[lblk] (srvl) at (1227,1304) {Response\\server};
\node[lblk] (vml) at (1452,1148) {Reserach\\compute\\VMs};
\node[lbl] (telel) at (1406,447) {Telemetry};
\node[lbl] (measl) at (1634,442) {Measurements\\results};
\node[lbl] (bgpl) at (1862,447) {BGP monitoring};
\node[lbl] (integl) at (1862,641) {Integrity monitor};
\node[lblk] (dashl) at (2082,655) {Dashboard};
\node[lbl,font=\fontsize{18.5}{22}\selectfont] (ibrdl) at (1488,811) {IBR data};
\node[lbl] (labl) at (1862,836) {Data labeling};
\node[lbl] (feal) at (1862,1011) {Feature\\extraction};
\node[lbl] (evel) at (1862,1249) {Event analysis};
\node[lblk] (ail) at (2087,964) {AI-ready\\IBR data};
\node[lbl] (refl) at (2082,1196) {Reference\\datasets};
\node[lbl] (codel) at (2081,1348) {Code};
\end{tikzpicture}
\end{document}
